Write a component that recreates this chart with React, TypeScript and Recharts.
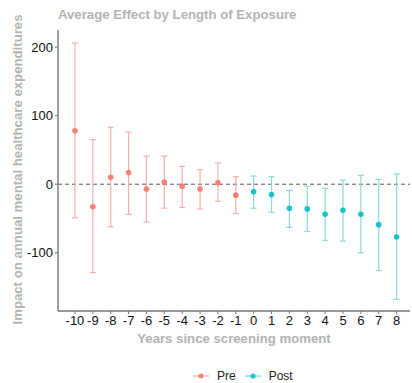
import React from 'react';
import {
  ComposedChart,
  Scatter,
  ErrorBar,
  XAxis,
  YAxis,
  ReferenceLine,
} from 'recharts';

// Event-study estimates with 95% intervals, by year relative to screening
const preYears = [-10, -9, -8, -7, -6, -5, -4, -3, -2, -1];
const preEstimate = [78, -33, 10, 17, -7, 3, -3, -7, 2, -16];
const preLower = [-49, -129, -62, -44, -55, -35, -34, -36, -25, -43];
const preUpper = [206, 65, 83, 76, 41, 41, 26, 21, 31, 11];

const postYears = [0, 1, 2, 3, 4, 5, 6, 7, 8];
const postEstimate = [-11, -15, -35, -36, -44, -38, -44, -59, -77];
const postLower = [-35, -41, -63, -69, -82, -83, -100, -126, -168];
const postUpper = [12, 11, -9, -3, -6, 6, 13, 7, 15];

const xTicks = [...preYears, ...postYears];
const yTicks = [-100, 0, 100, 200];

const PRE_COLOR = '#F8766D';
const POST_COLOR = '#00BFC4';
const FONT = '"Liberation Sans", Arial, sans-serif';
const TITLE_GREY = '#b3b3b3';

const build = (years: number[], est: number[], lo: number[], hi: number[]) =>
  years.map((year, i) => ({
    year,
    value: est[i],
    err: [est[i] - lo[i], hi[i] - est[i]],
  }));

const preData = build(preYears, preEstimate, preLower, preUpper);
const postData = build(postYears, postEstimate, postLower, postUpper);

const dot = (color: string) => (props: any) => (
  <circle cx={props.cx} cy={props.cy} r={2.8} fill={color} fillOpacity={0.9} />
);

// Rotated y-axis title, centred on the plot panel
const YTitle = (props: any) => {
  const vb = props.viewBox || {};
  const cx = 17;
  const cy = (vb.y ?? 30) + (vb.height ?? 281) / 2 - 1;
  return (
    <text
      x={cx}
      y={cy}
      transform={`rotate(-90, ${cx}, ${cy})`}
      textAnchor="middle"
      dominantBaseline="central"
      fill={TITLE_GREY}
      fontSize={13.2}
      fontWeight="bold"
      fontFamily={FONT}
    >
      Impact on annual mental healthcare expenditures
    </text>
  );
};

const LegendItem = ({ color, label }: { color: string; label: string }) => (
  <div style={{ display: 'flex', alignItems: 'center', marginRight: 9 }}>
    <svg width={16} height={8} style={{ marginRight: 8 }}>
      <line x1={0} y1={4} x2={16} y2={4} stroke={color} strokeOpacity={0.7} strokeWidth={1} />
      <circle cx={8} cy={4} r={2.6} fill={color} fillOpacity={0.85} />
    </svg>
    <span>{label}</span>
  </div>
);

export default function App() {
  return (
    <div
      style={{
        position: 'absolute',
        left: 0,
        top: 0,
        width: 412,
        height: 383,
        background: '#fff',
        fontFamily: FONT,
      }}
    >
      <div
        style={{
          position: 'absolute',
          left: 58,
          top: 7,
          fontSize: 13.2,
          fontWeight: 'bold',
          color: TITLE_GREY,
          whiteSpace: 'nowrap',
        }}
      >
        Average Effect by Length of Exposure
      </div>

      <ComposedChart
        width={412}
        height={383}
        margin={{ top: 30, right: 2, left: 0, bottom: 40 }}
      >
        <XAxis
          type="number"
          dataKey="year"
          domain={[-10.95, 8.75]}
          ticks={xTicks}
          interval={0}
          allowDataOverflow
          height={32}
          tick={{ fill: '#111', fontSize: 13, fontFamily: FONT }}
          tickLine={{ stroke: '#777' }}
          tickSize={3}
          axisLine={{ stroke: '#777', strokeWidth: 1.4 }}
          label={{
            value: 'Years since screening moment',
            position: 'insideBottom',
            offset: 0,
            fill: TITLE_GREY,
            fontSize: 13.2,
            fontWeight: 'bold',
            fontFamily: FONT,
          }}
        />
        <YAxis
          type="number"
          dataKey="value"
          domain={[-185, 225]}
          ticks={yTicks}
          allowDataOverflow
          width={58}
          tick={{ fill: '#111', fontSize: 13, fontFamily: FONT }}
          tickLine={{ stroke: '#777' }}
          tickSize={3}
          axisLine={{ stroke: '#777', strokeWidth: 1.4 }}
          label={{ content: YTitle }}
        />
        <ReferenceLine y={0} stroke="#555" strokeDasharray="4 3" strokeWidth={1} />
        <Scatter
          data={preData}
          dataKey="value"
          isAnimationActive={false}
          shape={dot(PRE_COLOR)}
        >
          <ErrorBar
            dataKey="err"
            direction="y"
            width={3}
            stroke="#f6b0ab"
            strokeWidth={1.2}
          />
        </Scatter>
        <Scatter
          data={postData}
          dataKey="value"
          isAnimationActive={false}
          shape={dot(POST_COLOR)}
        >
          <ErrorBar
            dataKey="err"
            direction="y"
            width={3}
            stroke="#8cdadc"
            strokeWidth={1.2}
          />
        </Scatter>
      </ComposedChart>

      <div
        style={{
          position: 'absolute',
          left: 193,
          top: 369,
          display: 'flex',
          fontSize: 12,
          color: '#222',
        }}
      >
        <LegendItem color={PRE_COLOR} label="Pre" />
        <LegendItem color={POST_COLOR} label="Post" />
      </div>
    </div>
  );
}
